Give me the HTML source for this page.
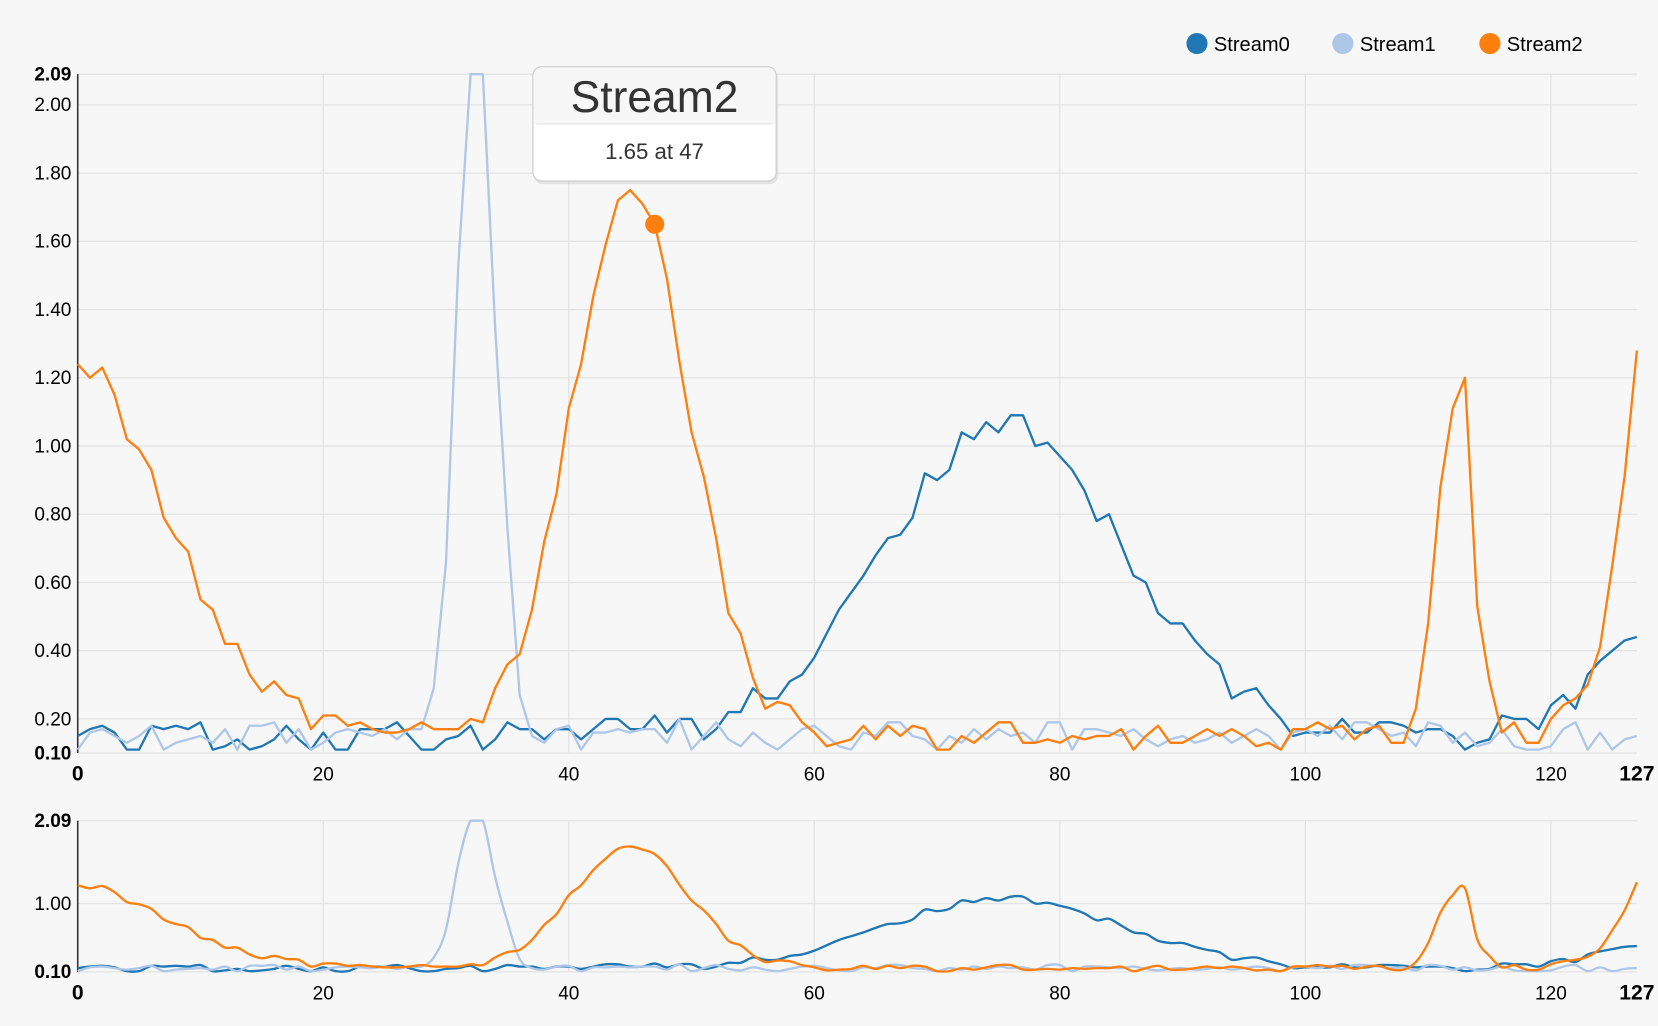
<!DOCTYPE html>
<html><head><meta charset="utf-8">
<style>
html,body{margin:0;padding:0;background:#f7f7f7;}
svg{display:block;font-family:"Liberation Sans",Arial,sans-serif;}
</style></head>
<body>
<svg id="chart" width="1658" height="1026" viewBox="0 0 1568 970" xmlns="http://www.w3.org/2000/svg">
<rect width="1568" height="970" fill="#f7f7f7"/>
<g id="main"></g>
<g id="focus"></g>
<g id="legend"></g>
<g id="tip"></g>
</svg>
<script>
const seriesNames = ["Stream0","Stream1","Stream2"];
const seriesColors = ["#1f77b4","#aec7e8","#ff7f0e"];
const stream0 = [0.15,0.17,0.18,0.16,0.11,0.11,0.18,0.17,0.18,0.17,0.19,0.11,0.12,0.14,0.11,0.12,0.14,0.18,0.14,0.11,
0.16,0.11,0.11,0.17,0.17,0.17,0.19,0.15,0.11,0.11,0.14,0.15,0.18,0.11,0.14,0.19,0.17,0.17,0.14,0.17,
0.17,0.14,0.17,0.2,0.2,0.17,0.17,0.21,0.16,0.2,0.2,0.14,0.17,0.22,0.22,0.29,0.26,0.26,0.31,0.33,
0.38,0.45,0.52,0.57,0.62,0.68,0.73,0.74,0.79,0.92,0.9,0.93,1.04,1.02,1.07,1.04,1.09,1.09,1.0,1.01,
0.97,0.93,0.87,0.78,0.8,0.71,0.62,0.6,0.51,0.48,0.48,0.43,0.39,0.36,0.26,0.28,0.29,0.24,0.2,0.15,
0.16,0.16,0.16,0.2,0.16,0.16,0.19,0.19,0.18,0.16,0.17,0.17,0.15,0.11,0.13,0.14,0.21,0.2,0.2,0.17,
0.24,0.27,0.23,0.33,0.37,0.4,0.43,0.44];
const stream1 = [0.11,0.16,0.17,0.15,0.13,0.15,0.18,0.11,0.13,0.14,0.15,0.13,0.17,0.11,0.18,0.18,0.19,0.13,0.17,0.11,
0.13,0.16,0.17,0.16,0.15,0.17,0.14,0.17,0.17,0.29,0.66,1.53,2.09,2.09,1.35,0.76,0.27,0.15,0.13,0.17,
0.18,0.11,0.16,0.16,0.17,0.16,0.17,0.17,0.13,0.2,0.11,0.15,0.19,0.14,0.12,0.16,0.13,0.11,0.14,0.17,
0.18,0.15,0.12,0.11,0.16,0.15,0.19,0.19,0.15,0.14,0.11,0.15,0.13,0.17,0.14,0.17,0.15,0.16,0.13,0.19,
0.19,0.11,0.17,0.17,0.16,0.15,0.17,0.14,0.12,0.14,0.15,0.13,0.14,0.16,0.13,0.15,0.17,0.15,0.11,0.16,
0.17,0.15,0.18,0.14,0.19,0.19,0.17,0.15,0.16,0.12,0.19,0.18,0.13,0.16,0.12,0.13,0.17,0.12,0.11,0.11,
0.12,0.17,0.19,0.11,0.16,0.11,0.14,0.15];
const stream2 = [1.24,1.2,1.23,1.15,1.02,0.99,0.93,0.79,0.73,0.69,0.55,0.52,0.42,0.42,0.33,0.28,0.31,0.27,0.26,0.17,
0.21,0.21,0.18,0.19,0.17,0.16,0.16,0.17,0.19,0.17,0.17,0.17,0.2,0.19,0.29,0.36,0.39,0.52,0.72,0.86,
1.11,1.24,1.44,1.59,1.72,1.75,1.71,1.65,1.49,1.25,1.04,0.91,0.73,0.51,0.45,0.32,0.23,0.25,0.24,0.19,
0.16,0.12,0.13,0.14,0.18,0.14,0.18,0.15,0.18,0.17,0.11,0.11,0.15,0.13,0.16,0.19,0.19,0.13,0.13,0.14,
0.13,0.15,0.14,0.15,0.15,0.17,0.11,0.15,0.18,0.13,0.13,0.15,0.17,0.15,0.17,0.15,0.12,0.13,0.11,0.17,
0.17,0.19,0.17,0.18,0.14,0.17,0.18,0.13,0.13,0.23,0.48,0.88,1.11,1.2,0.53,0.31,0.16,0.19,0.13,0.13,
0.2,0.24,0.26,0.3,0.41,0.65,0.91,1.28];
const xTicks = [0,20,40,60,80,100,120,127];
const mainYTicks = [0.10,0.20,0.40,0.60,0.80,1.00,1.20,1.40,1.60,1.80,2.00,2.09];
const focusYTicks = [0.10,1.00,2.09];
const yMin = 0.10, yMax = 2.09;
const hoverIndex = 47;
const series = [stream0, stream1, stream2];
const NS = "http://www.w3.org/2000/svg";
function mk(tag, attrs, parent){ const e=document.createElementNS(NS,tag); for(const k in attrs) e.setAttribute(k,attrs[k]); parent.appendChild(e); return e; }

function drawPanel(g, x0, x1, yTop, yBot, yTicks, smooth, tickFont, prefix){
  const X = i => x0 + (x1-x0)*i/127;
  const Y = v => yBot - (yBot-yTop)*(Math.min(v,yMax)-yMin)/(yMax-yMin);
  // grid
  xTicks.forEach(t=>{ if(t===0||t===127) return;
    const l=mk('line',{x1:X(t),x2:X(t),y1:yTop,y2:yBot,stroke:'#e3e3e3','stroke-width':1.2},g);
    
    
  });
  yTicks.forEach(t=>{
    const l=mk('line',{x1:x0,x2:x1,y1:Y(t),y2:Y(t),stroke:'#e3e3e3','stroke-width':1.2},g);
    
    
    const edge = (t===yMin||t===yMax);
    const tx=mk('text',{x:x0-6,y:Y(t)+6,'text-anchor':'end','font-size':tickFont,'font-weight':edge?'bold':'normal',fill:'#000'},g);
    tx.textContent=t.toFixed(2);
    
    
  });
  xTicks.forEach(t=>{
    const edge=(t===0||t===127);
    const tx=mk('text',{x:X(t),y:yBot+26,'text-anchor':'middle','font-size':edge?20:18,'font-weight':edge?'bold':'normal',fill:'#000'},g);
    tx.textContent=String(t);
    
    
  });
  const ax=mk('line',{x1:x0,x2:x0,y1:yTop,y2:yBot,stroke:'#333','stroke-width':1.5},g);
  
  
  series.forEach((s,si)=>{
    const pts=s.map((v,i)=>[X(i),Y(v)]);
    let d='M'+pts[0][0]+','+pts[0][1];
    if(!smooth){ for(let i=1;i<pts.length;i++) d+='L'+pts[i][0]+','+pts[i][1]; }
    else { for(let i=0;i<pts.length-1;i++){ const p0=pts[Math.max(0,i-1)],p1=pts[i],p2=pts[i+1],p3=pts[Math.min(pts.length-1,i+2)];
      const c1=[p1[0]+(p2[0]-p0[0])/6,p1[1]+(p2[1]-p0[1])/6], c2=[p2[0]-(p3[0]-p1[0])/6,p2[1]-(p3[1]-p1[1])/6];
      d+='C'+c1[0]+','+Math.max(yTop,c1[1])+' '+c2[0]+','+Math.max(yTop,c2[1])+' '+p2[0]+','+p2[1]; } }
    const p=mk('path',{d:d,fill:'none',stroke:seriesColors[si],'stroke-width':2.2,'stroke-linejoin':'round'},g);
    
    
  });
  return {X,Y};
}
const main = drawPanel(document.getElementById('main'),73.5,1548,70,712,mainYTicks,false,18,'main-');
drawPanel(document.getElementById('focus'),73.5,1548,776,919,focusYTicks,true,18,'focus-');

// hover point
const hp=mk('circle',{cx:main.X(hoverIndex),cy:main.Y(stream2[hoverIndex]),r:9,fill:'#ff7f0e'},document.getElementById('main'));



// legend
const lg=document.getElementById('legend');
[[1132,0],[1270,1],[1409,2]].forEach(([cx,i])=>{
  const c=mk('circle',{cx:cx,cy:41,r:10,fill:seriesColors[i]},lg);
  
  
  const t=mk('text',{x:cx+16,y:48,'font-size':19,fill:'#000'},lg);
  t.textContent=seriesNames[i];
  
  
});

// tooltip
const tg=document.getElementById('tip');
const sh=mk('rect',{x:505,y:66,width:231,height:108,rx:8,fill:'#000',opacity:0.08},tg);


const bx=mk('rect',{x:504,y:63,width:230,height:108,rx:8,fill:'#fff',stroke:'#cfcfcf','stroke-width':1.2},tg);


const hd=mk('path',{d:'M505,117 L505,71 Q505,64 512,64 L726,64 Q733,64 733,71 L733,117 Z',fill:'#f7f7f7'},tg);


const sep=mk('line',{x1:507,x2:731,y1:117,y2:117,stroke:'#e6e6e6','stroke-width':1.2},tg);


const th=mk('text',{x:619,y:106,'text-anchor':'middle','font-size':42,fill:'#333'},tg);
th.textContent=seriesNames[2];


const tb=mk('text',{x:619,y:150,'text-anchor':'middle','font-size':21,fill:'#333'},tg);
tb.textContent=stream2[hoverIndex].toFixed(2)+' at '+hoverIndex;


</script>
</body></html>
